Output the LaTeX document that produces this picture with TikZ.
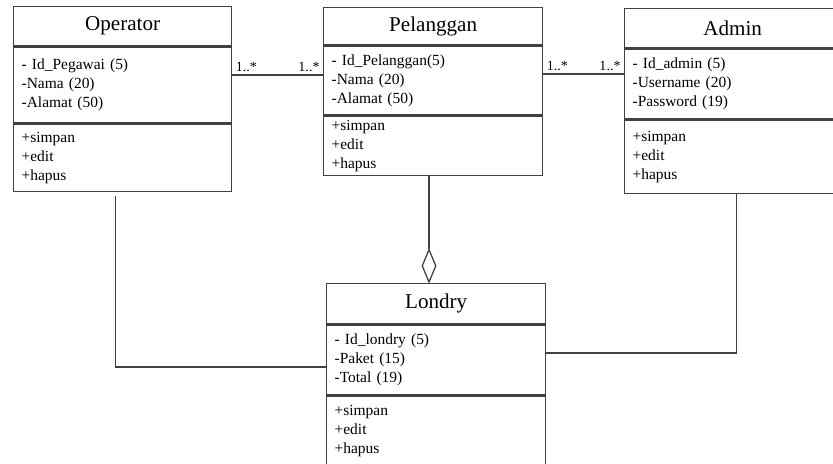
\documentclass[tikz,border=0pt]{standalone}
\usepackage{fontspec}
\setmainfont{Liberation Serif}
\usetikzlibrary{calc,shapes.geometric}

\begin{document}
\begin{tikzpicture}[x=0.025cm,y=-0.025cm]
    \definecolor{garis}{RGB}{64,64,64}   % abu tua
    \tikzset{
      judul/.style={draw=garis, line width=0.9pt, anchor=north west, inner sep=0pt, font=\fontsize{15}{18}\selectfont},
      isi/.style={draw=garis, line width=0.9pt, anchor=north west, align=left, inner xsep=0.2cm, inner ysep=1pt, font=\fontsize{11}{13.5}\selectfont},
      multi/.style={font=\fontsize{10}{12}\selectfont, inner sep=2pt},
      hub/.style={draw=garis, line width=0.9pt}
    }
    \useasboundingbox (0,0) rectangle (833,463);

    % Operator
    \node (opJudul) at (13,6) [judul, minimum width=5.45cm, minimum height=0.975cm] {Operator};
    \node (opAtr) at (opJudul.south west) [isi, text width=5.05cm, minimum height=1.9cm] {- Id\_Pegawai (5)\\-Nama (20)\\-Alamat (50)};
    \node (opMet) at (opAtr.south west) [isi, text width=5.05cm, minimum height=1.675cm] {+simpan\\+edit\\+hapus};

    % Pelanggan
    \node (pelJudul) at (323,7) [judul, minimum width=5.475cm, minimum height=0.925cm] {Pelanggan};
    \node (pelAtr) at (pelJudul.south west) [isi, text width=5.075cm, minimum height=1.725cm] {- Id\_Pelanggan(5)\\-Nama (20)\\-Alamat (50)};
    \node (pelMet) at (pelAtr.south west) [isi, text width=5.075cm, minimum height=1.475cm] {+simpan\\+edit\\+hapus};

    % Admin
    \node (adJudul) at (624,8) [judul, minimum width=5.4cm, minimum height=0.975cm] {Admin};
    \node (adAtr) at (adJudul.south west) [isi, text width=5.0cm, minimum height=1.75cm] {- Id\_admin (5)\\-Username (20)\\-Password (19)};
    \node (adMet) at (adAtr.south west) [isi, text width=5.0cm, minimum height=1.825cm] {+simpan\\+edit\\+hapus};

    % Londry
    \node (ldJudul) at (326,283) [judul, minimum width=5.475cm, minimum height=1.0cm] {Londry};
    \node (ldAtr) at (ldJudul.south west) [isi, text width=5.075cm, minimum height=1.75cm] {- Id\_londry (5)\\-Paket (15)\\-Total (19)};
    \node (ldMet) at (ldAtr.south west) [isi, text width=5.075cm, minimum height=1.725cm] {+simpan\\+edit\\+hapus};

    % relasi
    \coordinate (j1) at (0,75);
    \coordinate (j2) at (0,74);
    \coordinate (j3) at (0,367);
    \coordinate (j4) at (0,353);

    \draw[hub] (opAtr.east |- j1) -- (pelAtr.west |- j1)
      node[multi, pos=0, above right] {1..*}
      node[multi, pos=1, above left] {1..*};
    \draw[hub] (pelAtr.east |- j2) -- (adAtr.west |- j2)
      node[multi, pos=0, above right] {1..*}
      node[multi, pos=1, above left] {1..*};

    \node (agg) at (429,283) [diamond, draw=garis, line width=0.9pt, fill=white, inner sep=0pt, minimum width=0.35cm, minimum height=0.825cm, anchor=south] {};
    \draw[hub] (pelMet.south -| agg.north) -- (agg.north);

    \draw[hub] ($(opMet.south)+(-7,4)$) |- (ldAtr.west |- j3);
    \draw[hub] ($(adMet.south)+(4,0)$) |- (ldAtr.east |- j4);
\end{tikzpicture}
\end{document}
